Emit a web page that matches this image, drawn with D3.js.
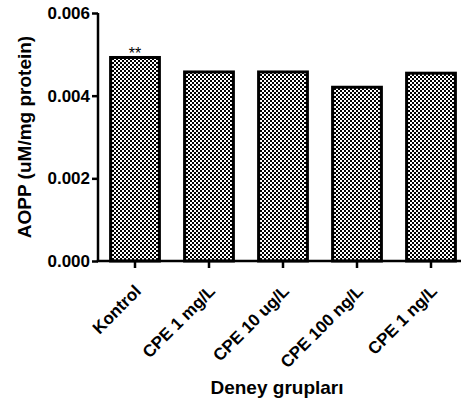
<!DOCTYPE html>
<html>
<head>
<meta charset="utf-8">
<script src="https://cdn.jsdelivr.net/npm/d3@7"></script>
<style>
body{margin:0;background:#fff;}
svg text{font-family:"Liberation Sans",Arial,sans-serif;}
</style>
</head>
<body>
<svg id="chart" width="461" height="407"></svg>
<script>
var groups = ["Kontrol","CPE 1 mg/L","CPE 10 ug/L","CPE 100 ng/L","CPE 1 ng/L"];
var values = [0.00496,0.00461,0.00461,0.00424,0.00458];
var marks = ["**","","","",""];
var yTicks = [0,0.002,0.004,0.006];

var svg = d3.select("#chart");

var defs = svg.append("defs");
var pat = defs.append("pattern").attr("id","dots")
	.attr("patternUnits","userSpaceOnUse").attr("width",4).attr("height",4);
pat.append("rect").attr("width",4).attr("height",4).attr("fill","#000");
pat.append("rect").attr("x",0).attr("y",0).attr("width",2).attr("height",2).attr("fill","#fff");
pat.append("rect").attr("x",2).attr("y",2).attr("width",2).attr("height",2).attr("fill","#fff");

var x = d3.scaleBand().domain(groups).range([98,468]).paddingInner(0.3).paddingOuter(0.15);
var y = d3.scaleLinear().domain([0,0.006]).range([261,13]);

// bars
svg.selectAll(".bar").data(values).enter().append("rect")
	.attr("class","bar")
	.attr("x",(d,i)=>x(groups[i])+1.5)
	.attr("y",d=>y(d)+1.5)
	.attr("width",x.bandwidth()-3)
	.attr("height",d=>y(0)-y(d)-1.5)
	.attr("fill","url(#dots)")
	.attr("stroke","#000")
	.attr("stroke-width",3);

svg.selectAll(".mark").data(marks).enter().append("text")
	.attr("x",(d,i)=>x(groups[i])+x.bandwidth()/2)
	.attr("y",(d,i)=>y(values[i])+3)
	.attr("text-anchor","middle")
	.attr("font-size",16)
	.attr("fill","#000")
	.text(d=>d);

// y axis
var ya = svg.append("g").attr("transform","translate(98,0)")
	.call(d3.axisLeft(y).tickValues(yTicks).tickFormat(d3.format(".3f")).tickSize(6).tickPadding(2));
ya.select(".domain").attr("stroke","#000").attr("stroke-width",2.5).attr("d","M0,"+y(0)+"V"+y(0.006));
ya.selectAll(".tick line").attr("stroke","#000").attr("stroke-width",2.5);
ya.selectAll(".tick text").attr("font-size",17).attr("font-weight","bold").attr("fill","#000");

// x axis
var xa = svg.append("g").attr("transform","translate(0,261)")
	.call(d3.axisBottom(x).tickSize(7).tickSizeOuter(0));
xa.select(".domain").attr("stroke","#000").attr("stroke-width",2.5).attr("d","M96.75,0H470");
xa.selectAll(".tick line").attr("stroke","#000").attr("stroke-width",2.5);
xa.selectAll(".tick text")
	.attr("font-size",17).attr("font-weight","bold").attr("fill","#000")
	.attr("text-anchor","end")
	.attr("x",0).attr("y",0).attr("dy","0.35em")
	.attr("transform","translate(3,27) rotate(-45)");

svg.append("text")
	.attr("transform","translate(31,137) rotate(-90)")
	.attr("text-anchor","middle")
	.attr("font-size",19).attr("font-weight","bold")
	.attr("fill","#000")
	.text("AOPP (uM/mg protein)");

svg.append("text")
	.attr("x",277).attr("y",394)
	.attr("text-anchor","middle")
	.attr("font-size",19).attr("font-weight","bold")
	.attr("fill","#000")
	.text("Deney grupları");
</script>
</body>
</html>
